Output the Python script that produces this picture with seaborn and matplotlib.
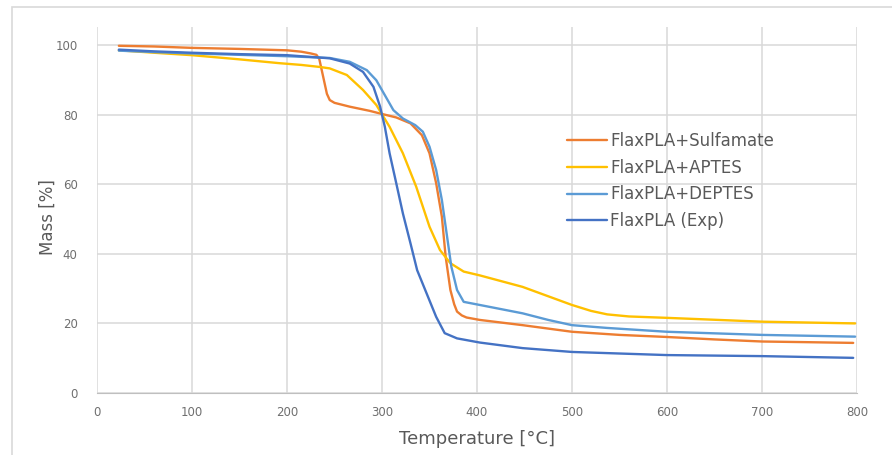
import pandas as pd
import seaborn as sns
import matplotlib.pyplot as plt
from matplotlib.patches import Rectangle

# TGA curves (temperature in °C, mass in %)
sulf_t = [23, 60, 100, 150, 200, 215, 225, 231, 234, 238, 242, 245, 250, 266, 287, 300,
          315, 330, 342, 350, 357, 363, 367, 372, 376, 379, 384, 389, 403, 448, 500, 550,
          600, 650, 700, 750, 796]
sulf_m = [99.8, 99.6, 99.2, 98.9, 98.5, 98.1, 97.6, 97.2, 96.0, 91.0, 86.0, 84.2, 83.4, 82.3, 81.1, 80.2,
          79.2, 77.5, 74.1, 68.9, 60.3, 50.7, 39.2, 29.6, 25.5, 23.4, 22.3, 21.7, 21.0, 19.5, 17.6, 16.7,
          16.1, 15.4, 14.8, 14.6, 14.4]

aptes_t = [23, 60, 100, 150, 192, 215, 235, 245, 263, 280, 294, 308, 322, 336, 350,
           361, 372, 386, 403, 448, 500, 520, 537, 560, 600, 700, 798]
aptes_m = [98.5, 97.8, 97.1, 95.9, 94.8, 94.3, 93.7, 93.3, 91.4, 87.1, 82.8, 76.5, 68.9, 59.3, 47.8,
           41.1, 37.3, 34.9, 33.8, 30.5, 25.3, 23.6, 22.6, 22.0, 21.6, 20.5, 20.0]

deptes_t = [23, 60, 100, 150, 200, 245, 266, 284, 294, 303, 312, 322, 335, 343, 350,
            357, 363, 368, 373, 379, 386, 403, 448, 475, 500, 537, 600, 700, 798]
deptes_m = [98.4, 98.0, 97.6, 97.2, 96.8, 96.3, 95.2, 92.8, 89.9, 85.6, 81.3, 78.9, 77.0, 75.1, 70.8,
            64.1, 55.5, 45.9, 36.3, 29.6, 26.2, 25.3, 22.9, 21.0, 19.5, 18.7, 17.6, 16.7, 16.2]

exp_t = [23, 60, 100, 150, 200, 245, 266, 280, 291, 298, 303, 308, 315, 322, 330,
         337, 347, 357, 366, 379, 403, 448, 500, 600, 700, 796]
exp_m = [98.7, 98.2, 97.8, 97.4, 97.1, 96.2, 94.7, 92.3, 88.0, 82.3, 76.5, 68.9, 60.3, 51.6, 43.0,
         35.3, 28.6, 21.9, 17.2, 15.7, 14.5, 12.9, 11.8, 10.9, 10.6, 10.1]

series = ["FlaxPLA+Sulfamate", "FlaxPLA+APTES", "FlaxPLA+DEPTES", "FlaxPLA (Exp)"]
colors = ["#ED7D31", "#FFC000", "#5B9BD5", "#4472C4"]

# long format table for seaborn
frames = []
for name, t, m in zip(series, [sulf_t, aptes_t, deptes_t, exp_t], [sulf_m, aptes_m, deptes_m, exp_m]):
    frames.append(pd.DataFrame({"Temperature": t, "Mass": m, "Sample": name}))
df = pd.concat(frames, ignore_index=True)

sns.set_style("white")
plt.rcParams['font.family'] = ['DejaVu Sans']

fig = plt.figure(figsize=(8.92, 4.55), dpi=100)
ax = fig.add_axes([97 / 892, 1 - 393 / 455, 760 / 892, 366 / 455])

sns.lineplot(data=df, x="Temperature", y="Mass", hue="Sample", hue_order=series,
             palette=colors, linewidth=1.7, sort=False, estimator=None, ax=ax)

ax.set_xlim(0, 800)
ax.set_ylim(0, 105.2)
ax.set_xticks(range(0, 801, 100))
ax.set_yticks(range(0, 101, 20))
ax.grid(True, color="#d9d9d9", linewidth=1.1)
ax.set_axisbelow(True)
for side in ["top", "right", "left"]:
    ax.spines[side].set_visible(False)
ax.spines["bottom"].set_color("#bfbfbf")
ax.tick_params(axis="x", length=0, labelsize=8.5, colors="#6f6f6f", pad=9)
ax.tick_params(axis="y", length=0, labelsize=8.5, colors="#6f6f6f", pad=14)
ax.set_xlabel("Temperature [°C]", fontsize=13, color="#595959", labelpad=8)
ax.set_ylabel("Mass [%]", fontsize=12, color="#595959")
ax.yaxis.set_label_coords(-0.053, 0.48)

leg = ax.legend(loc="upper left", bbox_to_anchor=(567 / 892, 1 - 132 / 455),
                bbox_transform=fig.transFigure, frameon=False, fontsize=12,
                handlelength=2.4, handletextpad=0.2, labelspacing=0.52, borderpad=0,
                borderaxespad=0)
for txt in leg.get_texts():
    txt.set_color("#595959")

# light outer chart frame
fig.patches.append(Rectangle((12 / 892, -0.5), 1.5, 0.5 + 1 - 7 / 455, transform=fig.transFigure,
                             fill=False, edgecolor="#d9d9d9", linewidth=1.2))

fig.savefig("out.png", dpi=100)
